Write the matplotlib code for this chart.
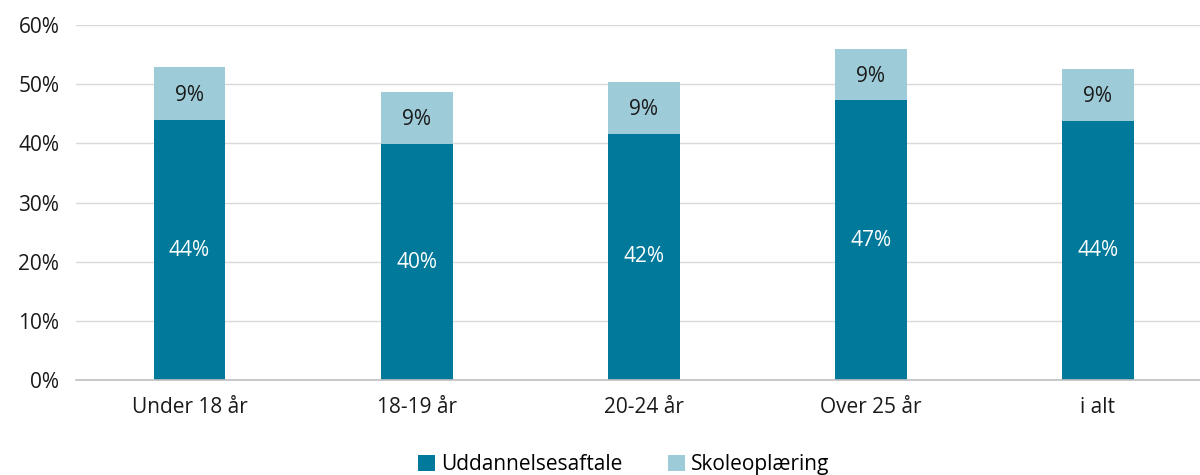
import matplotlib
matplotlib.use("Agg")
import matplotlib.pyplot as plt
from matplotlib.ticker import FuncFormatter

plt.rcParams['font.family'] = ['Open Sans', 'DejaVu Sans']

categories = ["Under 18 år", "18-19 år", "20-24 år", "Over 25 år", "i alt"]
uddannelsesaftale = [43.9, 39.9, 41.6, 47.3, 43.8]
skoleoplaering = [9.1, 8.8, 8.8, 8.6, 8.8]

dark = "#00799A"
light = "#9DCBD7"

fig = plt.figure(figsize=(12, 4.75), dpi=100)
ax = fig.add_axes([0.0633, 0.2, 0.9367, 0.747])

x = range(len(categories))
w = 0.317
b1 = ax.bar(x, uddannelsesaftale, w, color=dark, label="Uddannelsesaftale", zorder=2)
b2 = ax.bar(x, skoleoplaering, w, bottom=uddannelsesaftale, color=light,
            label="Skoleoplæring", zorder=2)

for i in x:
    ax.text(i, uddannelsesaftale[i] / 2, f"{uddannelsesaftale[i]:.0f}%",
            ha="center", va="center", color="white", fontsize=15)
    ax.text(i, uddannelsesaftale[i] + skoleoplaering[i] / 2 - 0.3, f"{skoleoplaering[i]:.0f}%",
            ha="center", va="center", color="#1a1a1a", fontsize=15)

ax.set_ylim(0, 60)
ax.set_xlim(-0.5, 4.45)
ax.set_yticks(range(0, 61, 10))
ax.yaxis.set_major_formatter(FuncFormatter(lambda v, p: f"{v:.0f}%"))
ax.set_xticks(list(x))
ax.set_xticklabels(categories)
ax.tick_params(axis="both", length=0, labelsize=15, colors="#1a1a1a")
ax.tick_params(axis="x", pad=12)
ax.tick_params(axis="y", pad=12)
ax.grid(axis="y", color="#d9d9d9", linewidth=1, zorder=0)
for s in ["top", "right", "left"]:
    ax.spines[s].set_visible(False)
ax.spines["bottom"].set_color("#bfbfbf")
ax.spines["bottom"].set_linewidth(1.2)

fig.legend(handles=[b1, b2], loc="center", bbox_to_anchor=(0.52, 0.022), ncol=2,
           frameon=False, fontsize=15, handlelength=0.8, handleheight=0.8,
           handletextpad=0.3, columnspacing=2.2)

fig.savefig("out.png", dpi=100)
